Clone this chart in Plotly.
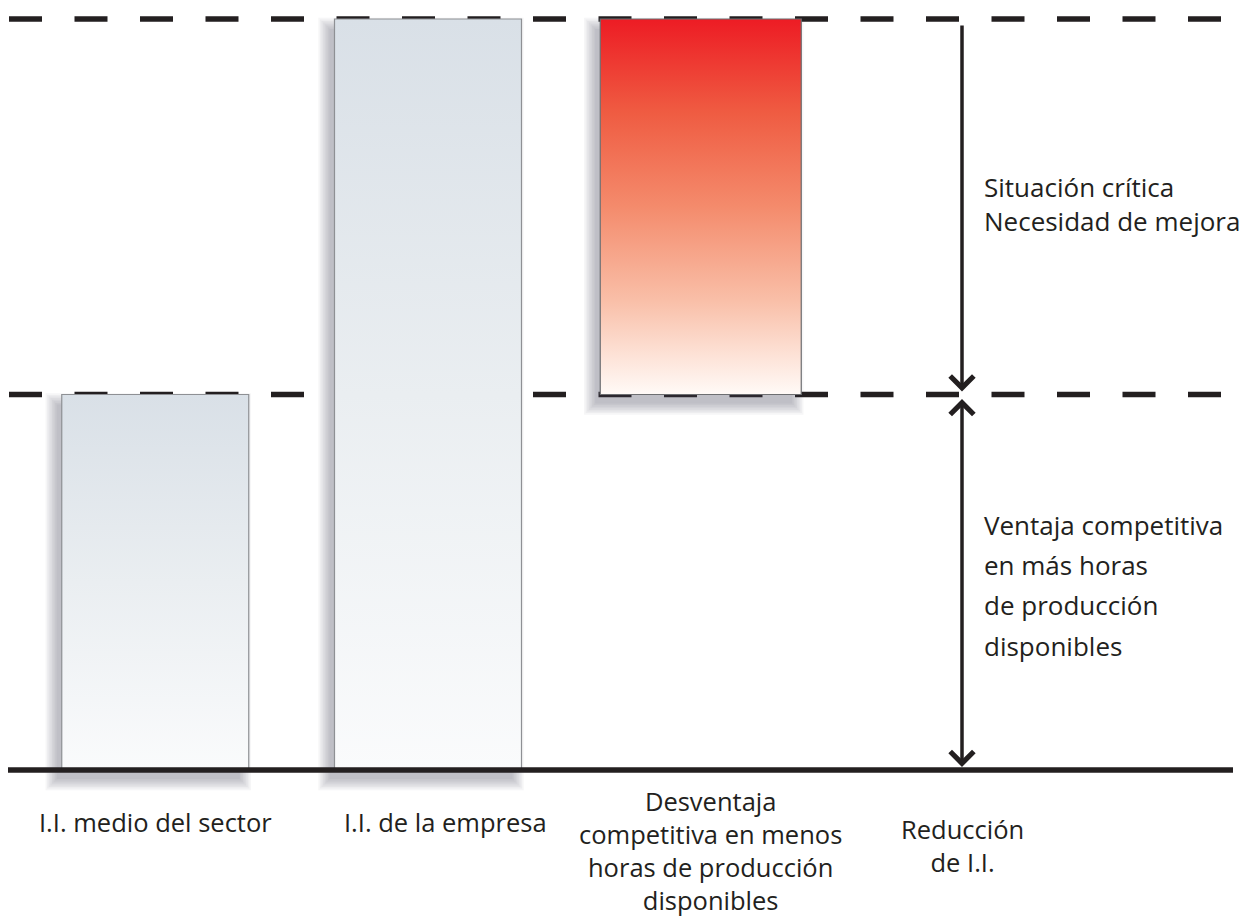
import plotly.graph_objects as go

# ---------------- data ----------------
categories = ["I.I. medio del sector", "I.I. de la empresa",
              "Desventaja competitiva en menos horas de producción disponibles"]
category_lines = [["I.I. medio del sector"],
                  ["I.I. de la empresa"],
                  ["Desventaja", "competitiva en menos", "horas de producción", "disponibles"]]
bar_base = [0, 0, 1]
bar_top = [1, 2, 2]
sector_level = 1      # I.I. medio del sector
company_level = 2     # I.I. de la empresa
reduction_label = ["Reducción", "de I.I."]
upper_note = ["Situación crítica", "Necesidad de mejora"]
lower_note = ["Ventaja competitiva", "en más horas", "de producción", "disponibles"]

# ---------------- layout helpers ----------------
W, H = 1252, 919
X0PX, XSCALE = 155.25, 272.75
Y0PX, YSCALE = 770.0, 375.5
x_range = [(0 - X0PX) / XSCALE, (W - X0PX) / XSCALE]
y_range = [(Y0PX - H) / YSCALE, Y0PX / YSCALE]


def dxu(px):
    return px / XSCALE


def dyu(px):
    return px / YSCALE


def xpix(px):
    return (px - X0PX) / XSCALE


def ypix(py):
    return (Y0PX - py) / YSCALE


INK = "#231F20"
FONT = "Open Sans"
FS_LABEL = 25.5
FS_NOTE = 26
bar_half_px = [93.5, 93.5, 100.5]
gray_scale = [[0, "#FAFBFC"], [0.5, "#EAEEF1"], [1, "#D9E0E7"]]
red_scale = [[0, "#FFFAF7"], [0.1, "#FDE3D8"], [0.25, "#F9BFA8"],
             [0.5, "#F48B6C"], [0.75, "#EF5C42"], [1, "#ED1C24"]]
bar_scales = [gray_scale, gray_scale, red_scale]
bar_edges = ["#8E9094", "#8E9094", "#6D6E71"]

fig = go.Figure()

# soft drop shadows
for i in range(len(categories)):
    hw = dxu(bar_half_px[i])
    L, R = i - hw, i + hw
    B, T = bar_base[i], bar_top[i]
    for k in range(8):
        s = k * 1.6
        xl = L - dxu(5 + s)
        xr = R - dxu(9 - s)
        yb = B - dyu(9 + s)
        yt = T - dyu(10 - s)
        fig.add_trace(go.Scatter(
            x=[xl, xr, xr, xl, xl], y=[yb, yb, yt, yt, yb],
            mode="lines", fill="toself", line=dict(width=0),
            fillcolor="rgba(70,72,76,0.048)", hoverinfo="skip", showlegend=False))

# bars with vertical gradient
for i in range(len(categories)):
    hw = dxu(bar_half_px[i])
    L, R = i - hw, i + hw
    B, T = bar_base[i], bar_top[i]
    fig.add_trace(go.Scatter(
        x=[L, R, R, L, L], y=[B, B, T, T, B],
        mode="lines", fill="toself",
        line=dict(width=1.2, color=bar_edges[i]),
        fillgradient=dict(type="vertical", colorscale=bar_scales[i], start=B, stop=T),
        name=categories[i], hoverinfo="name", showlegend=False))

shapes = []
for lvl in [sector_level, company_level]:
    shapes.append(dict(type="line", xref="paper", yref="y",
                       x0=9 / W, x1=1233 / W, y0=lvl, y1=lvl, layer="below",
                       line=dict(color=INK, width=5.5, dash="33px,32.5px")))
shapes.append(dict(type="line", xref="paper", yref="y",
                   x0=8 / W, x1=1233 / W, y0=0, y1=0, layer="above",
                   line=dict(color=INK, width=5.5)))

annotations = []
arrow_x = xpix(962)
# upper arrow (company level -> sector level)
annotations.append(dict(x=arrow_x, y=sector_level, ax=arrow_x, ay=company_level,
                        xref="x", yref="y", axref="x", ayref="y", text="",
                        showarrow=True, arrowhead=4, arrowsize=1.3, arrowwidth=3.5,
                        arrowcolor=INK, standoff=3, startstandoff=5))
# lower double arrow (sector level <-> base)
annotations.append(dict(x=arrow_x, y=0, ax=arrow_x, ay=sector_level,
                        xref="x", yref="y", axref="x", ayref="y", text="",
                        showarrow=True, arrowhead=4, startarrowhead=4, arrowside="end+start",
                        arrowsize=1.3, arrowwidth=3.5, startarrowsize=1.3,
                        arrowcolor=INK, standoff=3, startstandoff=3))

BASE_OFF = 0.388  # baseline offset below text-box centre (em)


def add_block(lines, x, first_baseline_px, size, xanchor="center", align="center"):
    """multi-line text block (plotly line spacing = 1.3 em)"""
    n = len(lines)
    last = first_baseline_px + (n - 1) * 1.3 * size
    centre = (first_baseline_px + last) / 2 - BASE_OFF * size
    annotations.append(dict(x=x, y=ypix(centre), xref="x", yref="y",
                            text="<br>".join(lines), showarrow=False,
                            xanchor=xanchor, yanchor="middle", align=align,
                            font=dict(family=FONT, size=size, color=INK)))


label_x_px = [155, 445, 710]
label_first_base = [832, 832, 811]
for i, lines in enumerate(category_lines):
    add_block(lines, xpix(label_x_px[i]), label_first_base[i], FS_LABEL)
add_block(reduction_label, xpix(962), 839, FS_LABEL)
add_block(upper_note, xpix(982), 197, FS_NOTE, xanchor="left", align="left")
# lower note uses a looser leading, one annotation per line
for j, t in enumerate(lower_note):
    base = 535 + j * 40.2
    annotations.append(dict(x=xpix(982), y=ypix(base - BASE_OFF * FS_NOTE), xref="x", yref="y",
                            text=t, showarrow=False, xanchor="left", yanchor="middle",
                            font=dict(family=FONT, size=FS_NOTE, color=INK)))

fig.update_layout(
    width=W, height=H, margin=dict(l=0, r=0, t=0, b=0),
    plot_bgcolor="white", paper_bgcolor="white", showlegend=False,
    xaxis=dict(range=x_range, visible=False, fixedrange=True),
    yaxis=dict(range=y_range, visible=False, fixedrange=True),
    shapes=shapes, annotations=annotations,
)

fig.write_html("out.html", config={"displayModeBar": False},
               post_script="document.body.style.margin='0px';document.body.style.overflow='hidden';")
